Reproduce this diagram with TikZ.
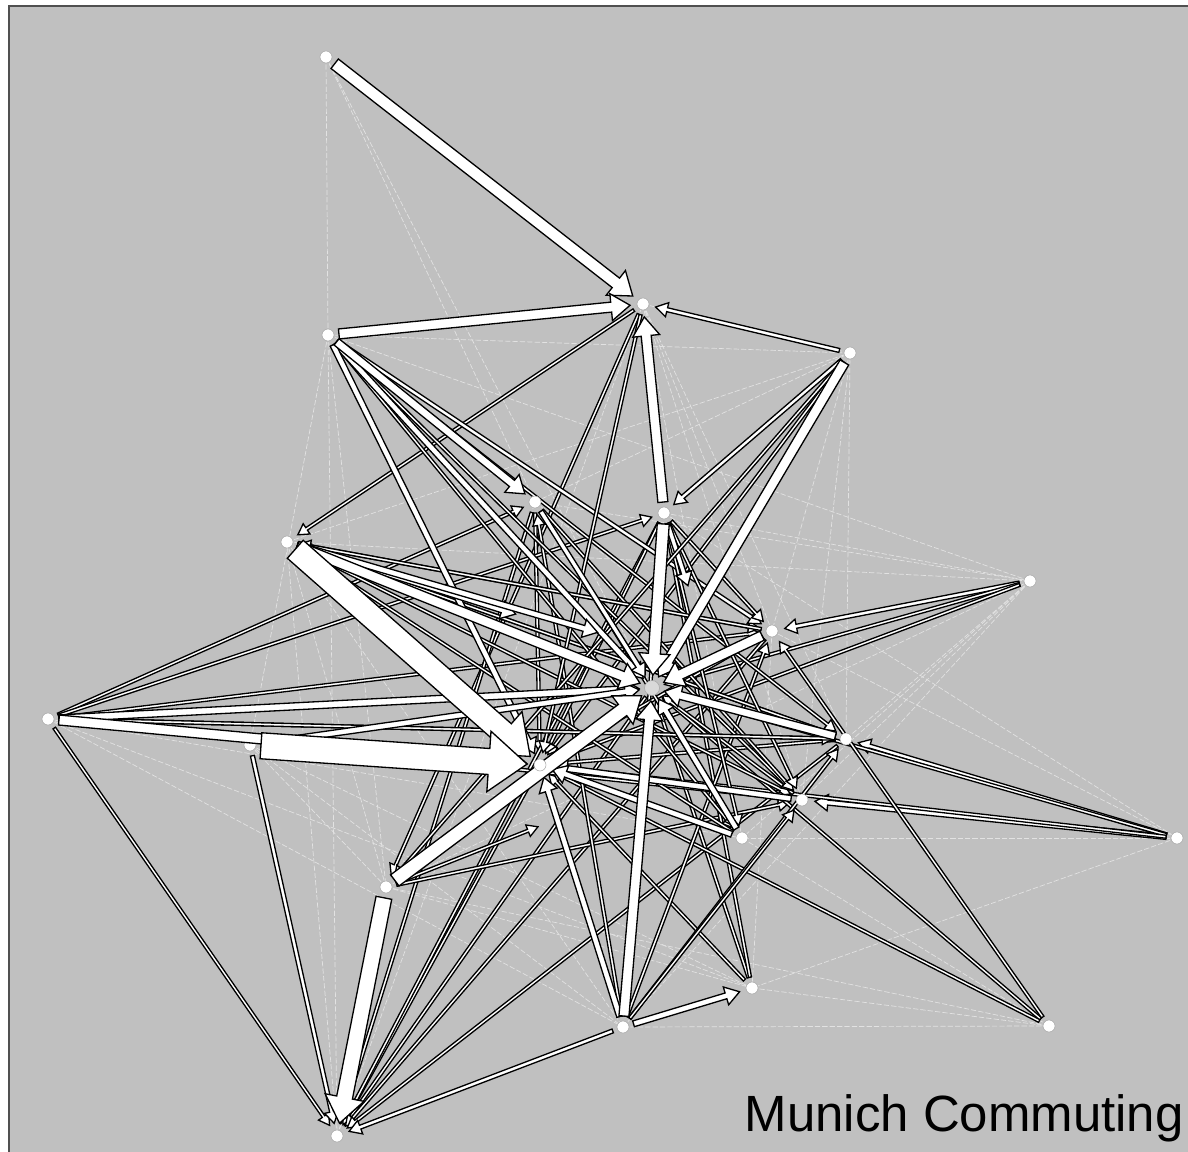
\documentclass[tikz,border=0pt]{standalone}
\usepackage{fontspec}
\newfontfamily\lsans{Liberation Sans}
\usetikzlibrary{calc}
\definecolor{bg}{HTML}{C0C0C0}
\definecolor{lgt}{HTML}{E2E2E2}
\definecolor{frm}{HTML}{505050}
\tikzset{
  pt/.style={circle, fill=white, draw=black!35, line width=0.3pt, inner sep=0pt, minimum size=0.24cm},
  flowst/.style={fill=white, draw=black, line width=0.75pt, line join=miter, miter limit=4},
  faint/.style={draw=lgt, line width=0.4pt, dash pattern=on 3pt off 1.2pt},
}
\newcommand\flw[3]{%
  \pgfmathsetmacro\fw{0.02*#3}%
  \pgfmathsetmacro\fW{0.02*(2.1*#3+3)}%
  \pgfmathsetmacro\fL{0.02*(2.4*#3+7)}%
  \coordinate (fs) at ($(#1.center)!0.22cm!(#2.center)$);
  \coordinate (fe) at ($(#2.center)!0.26cm!(#1.center)$);
  \coordinate (fh) at ($(fe)!\fL cm!(fs)$);
  \filldraw[flowst] ($(fs)!\fw cm!90:(fe)$) -- ($(fh)!\fw cm!-90:(fs)$) -- ($(fh)!\fW cm!-90:(fs)$) -- (fe) -- ($(fh)!\fW cm!90:(fs)$) -- ($(fh)!\fw cm!90:(fs)$) -- ($(fs)!\fw cm!-90:(fe)$) -- cycle;
}
\newcommand\lgl[2]{\draw[faint] (#1.center) -- (#2.center);}
\begin{document}
\begin{tikzpicture}[x=0.02cm, y=-0.02cm]
\useasboundingbox (0,0) rectangle (1188,1152);
\fill[white] (0,0) rectangle (1188,1152);
\filldraw[fill=bg, draw=frm, line width=1.1pt] (9,6) rectangle (1200,1170);
% nodes (positions)
\coordinate (A) at (326,57);
\coordinate (B) at (643,304);
\coordinate (C) at (850,353);
\coordinate (D) at (328,335);
\coordinate (E) at (535,502);
\coordinate (F) at (664,513);
\coordinate (G) at (287,542);
\coordinate (H) at (1030,581);
\coordinate (I) at (772,631);
\coordinate (M) at (652,688);
\coordinate (J) at (48,719);
\coordinate (K) at (846,739);
\coordinate (L) at (250,745);
\coordinate (S) at (540,765);
\coordinate (N) at (802,800);
\coordinate (P) at (742,838);
\coordinate (O) at (1177,838);
\coordinate (Q) at (386,887);
\coordinate (R) at (752,988);
\coordinate (T) at (1049,1026);
\coordinate (U) at (623,1027);
\coordinate (V) at (337,1136);
\coordinate (X1) at (528,618);
\coordinate (X2) at (610,636);
\coordinate (X3) at (692,598);
\coordinate (X4) at (550,822);
% faint links
\lgl{A}{D}\lgl{A}{E}\lgl{A}{M}\lgl{D}{V}\lgl{D}{L}\lgl{D}{C}\lgl{G}{V}\lgl{G}{Q}
\lgl{J}{P}\lgl{J}{U}\lgl{J}{R}\lgl{Q}{T}\lgl{Q}{R}\lgl{U}{T}\lgl{R}{T}\lgl{U}{H}
\lgl{H}{K}\lgl{H}{N}\lgl{H}{P}\lgl{C}{K}\lgl{C}{I}\lgl{B}{I}\lgl{B}{K}\lgl{B}{C}
\lgl{F}{H}\lgl{E}{H}\lgl{E}{C}\lgl{O}{P}\lgl{O}{R}\lgl{O}{I}\lgl{T}{P}\lgl{L}{Q}
\lgl{L}{U}\lgl{G}{U}\lgl{D}{Q}\lgl{B}{N}\lgl{G}{C}\lgl{E}{K}\lgl{F}{O}\lgl{I}{R}
\lgl{V}{E}\lgl{V}{B}\lgl{Q}{H}\lgl{G}{H}\lgl{D}{H}\lgl{L}{R}\lgl{B}{P}\lgl{C}{N}
% thin flows
\flw{C}{B}{2}\flw{C}{F}{2}\flw{C}{S}{1.5}\flw{B}{G}{1.5}\flw{B}{Q}{1.5}
\flw{H}{I}{2}\flw{H}{M}{1.5}\flw{H}{S}{1.5}\flw{O}{N}{2.5}\flw{O}{K}{2}
\flw{O}{M}{1.5}\flw{O}{S}{1.5}\flw{E}{S}{1.5}\flw{J}{E}{1.5}\flw{J}{F}{1.5}
\flw{J}{I}{1.5}\flw{J}{V}{1.5}\flw{L}{V}{2}\flw{M}{V}{1.5}\flw{S}{V}{1.5}
\flw{E}{V}{1.5}\flw{F}{V}{1.5}\flw{I}{V}{1.5}\flw{K}{V}{1.5}\flw{U}{V}{2}
\flw{Q}{X4}{1.5}\flw{Q}{N}{1.5}\flw{R}{M}{1.5}\flw{R}{S}{1.5}\flw{R}{F}{1.5}
\flw{T}{M}{1.5}\flw{T}{S}{1.5}\flw{T}{I}{1.5}\flw{U}{F}{1.5}\flw{U}{E}{1.5}
\flw{U}{I}{1.5}\flw{U}{K}{1.5}\flw{U}{N}{1.5}\flw{K}{S}{1.5}\flw{K}{G}{1.5}
\flw{N}{M}{1.5}\flw{I}{S}{1.5}\flw{F}{S}{1.5}\flw{G}{I}{1.5}\flw{G}{K}{1.5}
\flw{G}{N}{1.5}\flw{D}{K}{1.5}\flw{D}{P}{1.5}\flw{D}{N}{1.5}\flw{D}{I}{2}
\flw{J}{K}{1.5}\flw{J}{N}{1.5}\flw{P}{G}{1.5}\flw{E}{P}{1.5}\flw{E}{N}{1.5}
\flw{F}{P}{1.5}\flw{F}{N}{1.5}\flw{F}{X3}{2.5}\flw{F}{I}{1.5}\flw{B}{S}{1.5}
\flw{I}{G}{1.5}\flw{K}{J}{1.5}\flw{C}{Q}{1.5}
% medium and thick flows
\node[pt] (Lnode) at (L) {};
\flw{D}{M}{3}\flw{D}{S}{3}\flw{E}{M}{2.5}\flw{G}{X1}{3}\flw{G}{X2}{3}
\flw{U}{S}{3}\flw{U}{R}{3}\flw{N}{S}{3}\flw{P}{M}{3}\flw{P}{S}{3}
\flw{J}{M}{3.5}\flw{L}{M}{3}\flw{D}{E}{4}\flw{K}{M}{4}
\flw{A}{B}{6}\flw{D}{B}{5}\flw{F}{B}{5}\flw{C}{M}{5}\flw{G}{M}{5}
\flw{I}{M}{5}\flw{U}{M}{5}\flw{F}{M}{6}\flw{Q}{M}{7}\flw{Q}{V}{8}
\flw{J}{S}{5}\flw{G}{S}{12}\flw{L}{S}{13}
% visible nodes
\foreach \n in {A,B,C,D,E,F,G,H,I,J,K,S,N,P,O,Q,R,T,U,V}{\node[pt] (n\n) at (\n) {};}
\node[pt, minimum size=0.3cm, fill=black!15] (hub) at (M) {};
\node[anchor=base east, font=\lsans\fontsize{29}{30}\selectfont, inner sep=0pt] (title) at (1184,1131) {Munich Commuting};
\end{tikzpicture}
\end{document}
